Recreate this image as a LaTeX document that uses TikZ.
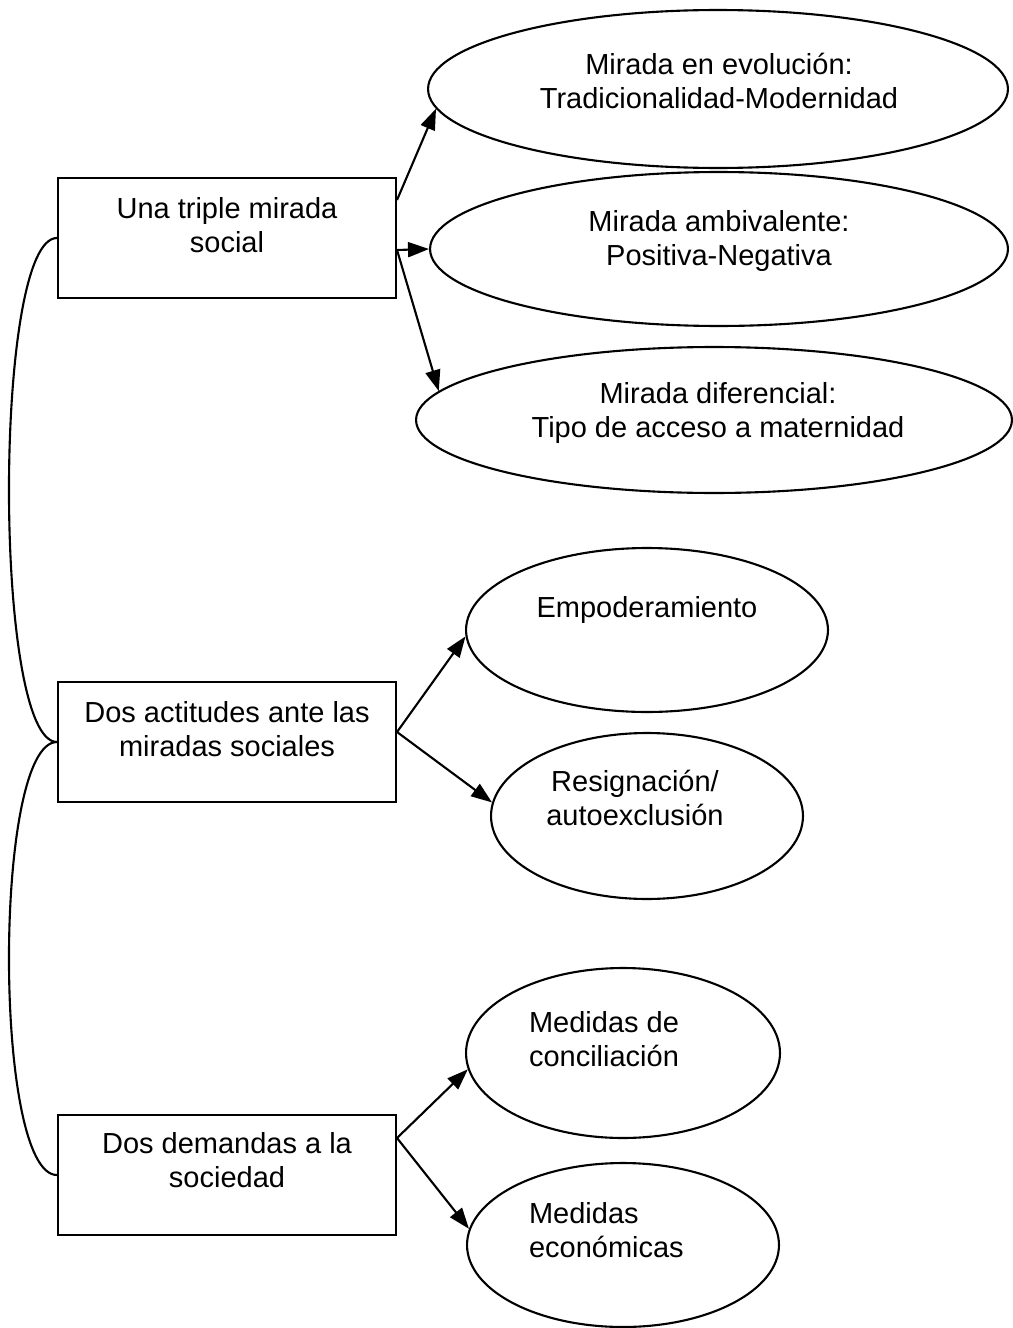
\documentclass[tikz,border=0pt]{standalone}
\usepackage{fontspec}
\setmainfont{Liberation Sans}
\usetikzlibrary{arrows.meta,shapes.geometric}

\begin{document}
\begin{tikzpicture}[x=0.02cm, y=-0.02cm, line width=1.2pt,
                    every node/.style={font=\fontsize{16.5}{19}\selectfont},
                    cuadro/.style={draw, rectangle, inner sep=0pt,
                                   minimum width=6.76cm, minimum height=2.4cm},
                    elipse/.style={draw, ellipse, inner sep=0pt},
                    rotulo/.style={align=center, inner sep=0pt},
                    flecha/.style={-{Triangle[length=0.42cm,width=0.3cm]}}]
                      \useasboundingbox (0,0) rectangle (1013,1328);

                      % cajas de la izquierda
                      \node[cuadro] (b1) at (227, 238) {};
                      \node[cuadro] (b2) at (227, 742) {};
                      \node[cuadro] (b3) at (227, 1175) {};

                      \node[rotulo] (t1) at (227, 225) {Una triple mirada\\ social};
                      \node[rotulo] (t2) at (227, 729) {Dos actitudes ante las\\ miradas sociales};
                      \node[rotulo] (t3) at (227, 1160) {Dos demandas a la\\ sociedad};

                      % elipses
                      \node[elipse, minimum width=11.6cm, minimum height=3.16cm] (e1) at (718, 89) {};
                      \node[elipse, minimum width=11.56cm, minimum height=3.08cm] (e2) at (719, 249) {};
                      \node[elipse, minimum width=11.92cm, minimum height=2.92cm] (e3) at (714, 420) {};
                      \node[elipse, minimum width=7.24cm, minimum height=3.28cm] (e4) at (647, 630) {};
                      \node[elipse, minimum width=6.24cm, minimum height=3.32cm] (e5) at (647, 816) {};
                      \node[elipse, minimum width=6.28cm, minimum height=3.4cm] (e6) at (623, 1053) {};
                      \node[elipse, minimum width=6.24cm, minimum height=3.28cm] (e7) at (623, 1245) {};

                      \node[rotulo] (et1) at (719, 81) {Mirada en evolución:\\ Tradicionalidad-Modernidad};
                      \node[rotulo] (et2) at (719, 241) {Mirada ambivalente:\\ Positiva-Negativa};
                      \node[rotulo] (et3) at (718, 413) {Mirada diferencial:\\ Tipo de acceso a maternidad};
                      \node[rotulo] (et4) at (647, 610) {Empoderamiento};
                      \node[rotulo] (et5) at (635, 798) {Resignación/\\ autoexclusión};
                      \node[rotulo, align=left, anchor=west] (et6) at (528, 1039) {Medidas de\\ conciliación};
                      \node[rotulo, align=left, anchor=west] (et7) at (528, 1230) {Medidas\\ económicas};

                      % llaves de la izquierda
                      \draw (b1.west) .. controls +(-64,0) and +(-64,0) .. (b2.west);
                      \draw (b2.west) .. controls +(-64,0) and +(-64,0) .. (b3.west);

                      \foreach \i/\d/\j/\a in {b1/0.76/e1/184, b1/-0.24/e2/180, b1/-0.24/e3/174,
                                               b2/0.2/e4/182, b2/0.2/e5/175,
                                               b3/0.74/e6/186, b3/0.74/e7/174} {
                              \draw[flecha] ([yshift=\d cm]\i.east) -- (\j.\a);
                          }
                  \end{tikzpicture}
\end{document}
